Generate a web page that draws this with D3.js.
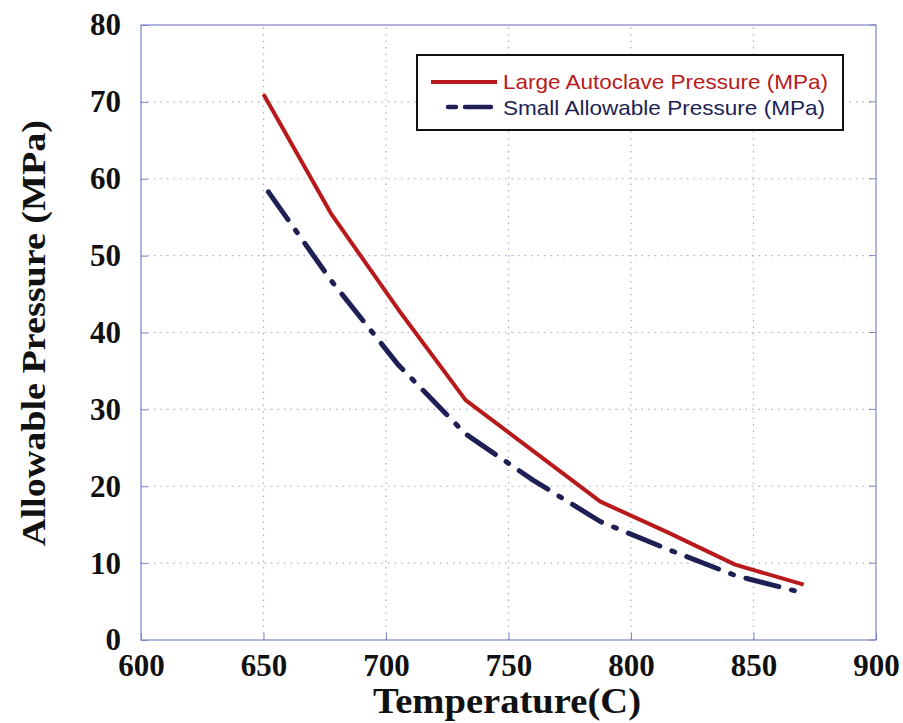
<!DOCTYPE html>
<html>
<head>
<meta charset="utf-8">
<script src="https://cdn.jsdelivr.net/npm/d3@7"></script>
<style>
  body { margin: 0; background: #fff; }
  svg { display: block; }
</style>
</head>
<body>
<div id="chart"></div>
<script>
// data
var temps = [650, 677.5, 705, 732.5, 760, 787.5, 815, 842.5, 870.5];
var largePressure = [71, 55.5, 43, 31.2, 24.6, 18, 14, 9.8, 7.2];
var smallTemps = [652, 677.5, 705, 732.5, 760, 787.5, 815, 842.5, 870.5];
var smallPressure = [58.3, 46.8, 35.8, 26.8, 20.8, 15.4, 11.8, 8.4, 6.1];
var xTicks = [600, 650, 700, 750, 800, 850, 900];
var yTicks = [0, 10, 20, 30, 40, 50, 60, 70, 80];
var seriesNames = ["Large Autoclave Pressure (MPa)", "Small Allowable Pressure (MPa)"];

var width = 903, height = 723;
var margin = {left: 141, right: 27, top: 25, bottom: 83};

var svg = d3.select("#chart").append("svg")
    .attr("width", width)
    .attr("height", height);

var x = d3.scaleLinear().domain([600, 900]).range([margin.left, width - margin.right]);
var y = d3.scaleLinear().domain([0, 80]).range([height - margin.bottom, margin.top]);

var gridColor = "#a9b0d6";
var frameColor = "#7d84c8";
var serif = "'Liberation Serif', 'Times New Roman', serif";

// grid
svg.append("g").selectAll("line").data(xTicks.slice(1, -1)).enter().append("line")
    .attr("x1", function(d) { return x(d); })
    .attr("x2", function(d) { return x(d); })
    .attr("y1", y(0)).attr("y2", y(80))
    .style("stroke", gridColor).style("stroke-width", 1.2).style("stroke-dasharray", "1.5 5");

svg.append("g").selectAll("line").data(yTicks.slice(1, -1)).enter().append("line")
    .attr("x1", x(600)).attr("x2", x(900))
    .attr("y1", function(d) { return y(d); })
    .attr("y2", function(d) { return y(d); })
    .style("stroke", gridColor).style("stroke-width", 1.2).style("stroke-dasharray", "1.5 5");

// frame
svg.append("rect")
    .attr("x", x(600)).attr("y", y(80))
    .attr("width", x(900) - x(600)).attr("height", y(0) - y(80))
    .style("fill", "none").style("stroke", frameColor).style("stroke-width", 1.2);

// axes with inward ticks
var xAxis = svg.append("g")
    .attr("transform", "translate(0," + y(0) + ")")
    .call(d3.axisBottom(x).tickValues(xTicks).tickSizeInner(-7).tickSizeOuter(0).tickPadding(14));
xAxis.select(".domain").remove();
xAxis.selectAll("line").style("stroke", frameColor);
xAxis.selectAll("text")
    .style("font-family", serif)
    .style("font-weight", "bold").style("font-size", "31px").style("fill", "#111");

var yAxis = svg.append("g")
    .attr("transform", "translate(" + x(600) + ",0)")
    .call(d3.axisLeft(y).tickValues(yTicks).tickSizeInner(-7).tickSizeOuter(0).tickPadding(20));
yAxis.select(".domain").remove();
yAxis.selectAll("line").style("stroke", frameColor);
yAxis.selectAll("text")
    .style("font-family", serif)
    .style("font-weight", "bold").style("font-size", "31px").style("fill", "#111");

// right side ticks
svg.append("g").selectAll("line").data(yTicks).enter().append("line")
    .attr("x1", x(900) - 7).attr("x2", x(900))
    .attr("y1", function(d) { return y(d); })
    .attr("y2", function(d) { return y(d); })
    .style("stroke", frameColor);

// axis titles
svg.append("text")
    .attr("x", 507).attr("y", 713)
    .attr("text-anchor", "middle")
    .attr("textLength", 268).attr("lengthAdjust", "spacingAndGlyphs")
    .style("font-family", serif)
    .style("font-weight", "bold").style("font-size", "35px").style("fill", "#111")
    .text("Temperature(C)");

svg.append("text")
    .attr("transform", "translate(45,333) rotate(-90)")
    .attr("text-anchor", "middle")
    .attr("textLength", 426).attr("lengthAdjust", "spacingAndGlyphs")
    .style("font-family", serif)
    .style("font-weight", "bold").style("font-size", "34px").style("fill", "#111")
    .text("Allowable Pressure (MPa)");

// lines
var line = d3.line()
    .x(function(d) { return x(d[0]); })
    .y(function(d) { return y(d[1]); });

var redColor = "#b8191b";
var navyColor = "#1d1f55";

svg.append("path")
    .datum(d3.zip(temps, largePressure))
    .attr("d", line)
    .style("fill", "none").style("stroke", redColor).style("stroke-width", 4)
    .style("stroke-linejoin", "round");

svg.append("path")
    .datum(d3.zip(smallTemps, smallPressure))
    .attr("d", line)
    .style("fill", "none").style("stroke", navyColor).style("stroke-width", 5)
    .style("stroke-linecap", "round")
    .style("stroke-dasharray", "34 13 3 13");

// legend
var legend = svg.append("g");
legend.append("rect")
    .attr("x", 417).attr("y", 55).attr("width", 426).attr("height", 75)
    .style("fill", "#fff").style("stroke", "#111").style("stroke-width", 2);

legend.append("line")
    .attr("x1", 431).attr("x2", 497).attr("y1", 82).attr("y2", 82)
    .style("stroke", redColor).style("stroke-width", 4);
legend.append("line")
    .attr("x1", 448).attr("x2", 496).attr("y1", 107).attr("y2", 107)
    .style("stroke", navyColor).style("stroke-width", 4.5)
    .style("stroke-linecap", "round").style("stroke-dasharray", "8 9 26 40");

legend.append("text")
    .attr("x", 503).attr("y", 89)
    .attr("textLength", 325).attr("lengthAdjust", "spacingAndGlyphs")
    .style("font-family", "'Liberation Sans', Arial, sans-serif")
    .style("font-size", "21px").style("fill", redColor)
    .text(seriesNames[0]);
legend.append("text")
    .attr("x", 503).attr("y", 115)
    .attr("textLength", 322).attr("lengthAdjust", "spacingAndGlyphs")
    .style("font-family", "'Liberation Sans', Arial, sans-serif")
    .style("font-size", "21px").style("fill", navyColor)
    .text(seriesNames[1]);
</script>
</body>
</html>
